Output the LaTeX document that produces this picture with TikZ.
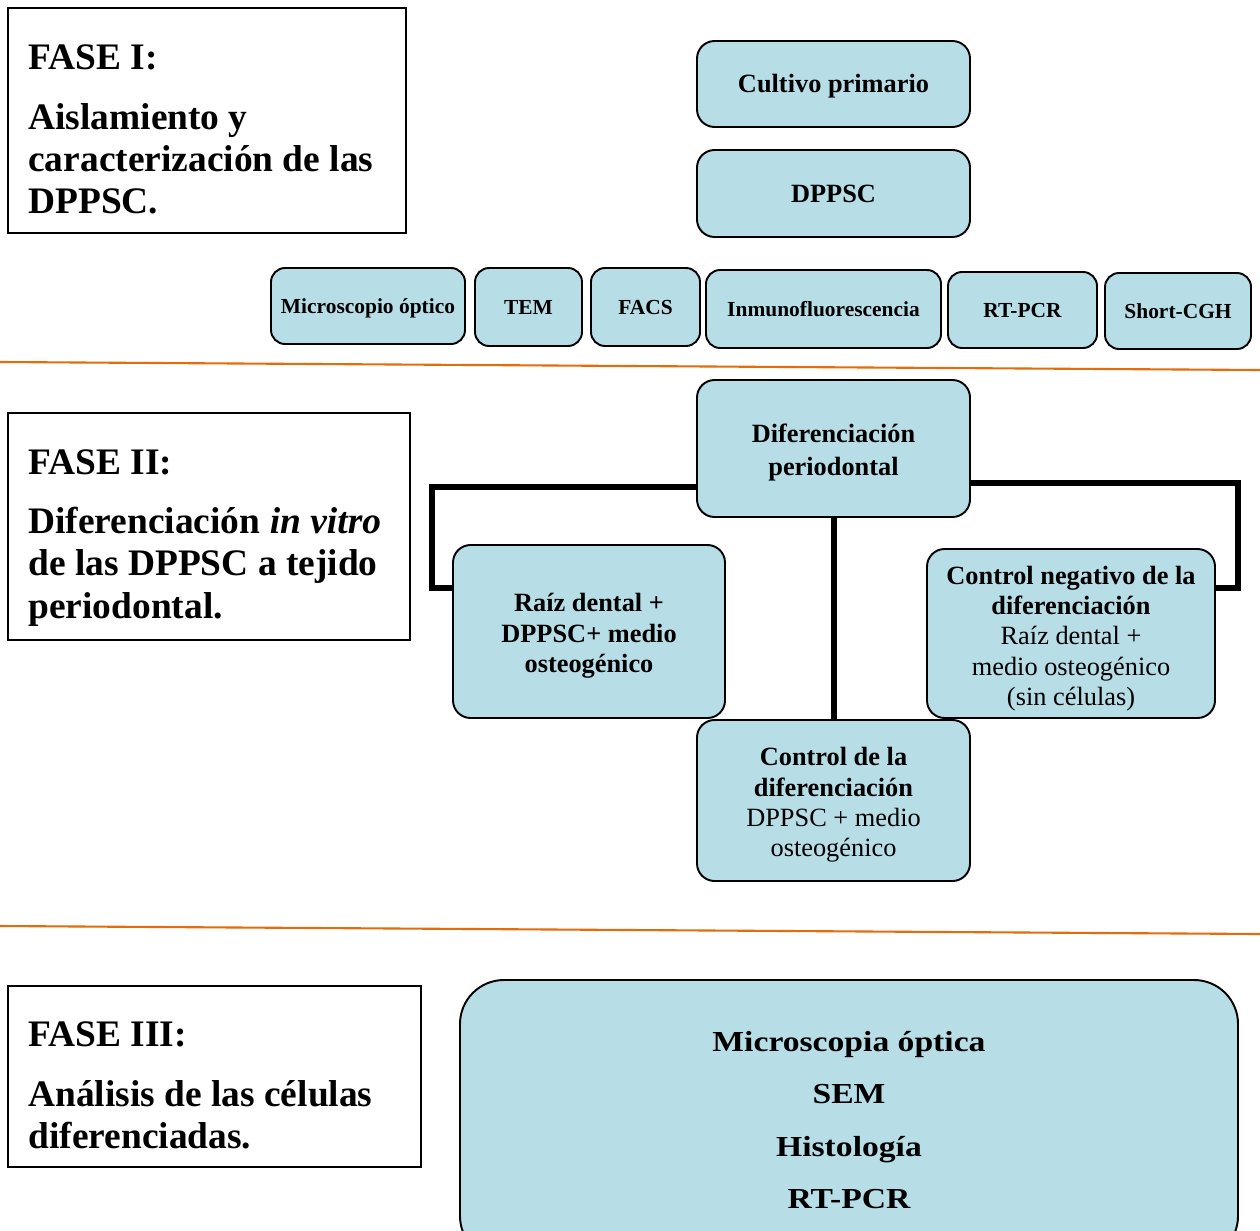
\documentclass[tikz,border=0pt]{standalone}
\usepackage{fontspec}
\setmainfont{Liberation Serif}
\newfontfamily\widefont{Liberation Serif}[FakeStretch=1.16]
\usetikzlibrary{backgrounds}
\definecolor{boxblue}{RGB}{183,222,230}
\definecolor{orangeline}{RGB}{228,108,10}
\tikzset{
 sz/.style 2 args={minimum width=#1*0.02cm, minimum height=#2*0.02cm},
 phasebox/.style={draw, line width=1.1pt, inner sep=0pt},
 ptxt/.style={anchor=north west, align=left, inner sep=0pt, font=\fontsize{21.3}{24}\selectfont\bfseries},
 bx/.style={draw, fill=boxblue, line width=1.1pt, rounded corners=10pt, align=center, inner sep=2pt,
   font=\fontsize{15}{17.3}\selectfont\bfseries},
 onebx/.style={bx, text height=13pt, text depth=3.3pt},
 boxtext/.style={align=center, inner sep=0pt, font=\fontsize{15}{17.3}\selectfont\bfseries},
 smallbx/.style={bx, rounded corners=8pt, font=\fontsize{12.2}{14}\selectfont\bfseries,
   text height=12pt, text depth=3pt},
 bigbx/.style={draw, fill=boxblue, line width=1.1pt, rounded corners=25pt, align=center, inner sep=2pt,
   font=\widefont\fontsize{16.5}{18.8}\selectfont\bfseries},
 conn/.style={line width=3.4pt},
 sepline/.style={draw=orangeline, line width=1.2pt},
}
\begin{document}
\begin{tikzpicture}[x=0.02cm, y=-0.02cm]
\clip (0,0) rectangle (1260,1230);
\fill[white] (0,0) rectangle (1260,1230);

% separators
\draw[sepline] (0,362) -- (1260,370);
\draw[sepline] (0,926) -- (1260,934);

% phase boxes
\node[phasebox, sz={398}{225}] (p1) at (207,120.5) {};
\node[ptxt] (p1h) at (28,44) {FASE I:};
\node[ptxt] (p1b) at (28,103) {Aislamiento y\\caracterización de las\\DPPSC.};

\node[phasebox, sz={402}{227}] (p2) at (209,526.5) {};
\node[ptxt] (p2h) at (28,449) {FASE II:};
\node[ptxt] (p2b) at (28,507) {Diferenciación \textit{in vitro}\\de las DPPSC a tejido\\periodontal.};

\node[phasebox, sz={413}{181}] (p3) at (214.5,1076.5) {};
\node[ptxt] (p3h) at (28,1021) {FASE III:};
\node[ptxt] (p3b) at (28,1080) {Análisis de las células\\diferenciadas.};

% top chain
\node[onebx, sz={273}{86}] (cult) at (833.5,84) {Cultivo primario};
\node[onebx, sz={273}{87}] (dppsc) at (833.5,193.5) {DPPSC};

% second phase boxes (shape, then text slightly below centre)
\node[bx, sz={273}{137}] (dif) at (833.5,448.5) {};
\node[bx, sz={272}{173}] (raiz) at (589,631.5) {};
\node[bx, sz={288}{169}] (cneg) at (1071,633.5) {};
\node[bx, sz={273}{161}] (cdif) at (833.5,800.5) {};

\node[boxtext, font=\fontsize{15}{18.7}\selectfont\bfseries] (dift) at ([yshift=-0.08cm]dif.center) {Diferenciación\\periodontal};
\node[boxtext] (raizt) at ([yshift=-0.09cm]raiz.center) {Raíz dental +\\DPPSC+ medio\\osteogénico};
\node[boxtext] (cnegt) at ([yshift=-0.1cm]cneg.center) {Control negativo de la\\diferenciación\\\mdseries Raíz dental +\\\mdseries medio osteogénico\\\mdseries (sin células)};
\node[boxtext] (cdift) at ([yshift=-0.09cm]cdif.center) {Control de la\\diferenciación\\\mdseries DPPSC + medio\\\mdseries osteogénico};

\begin{scope}[on background layer]
\draw[conn] (dppsc.south) -- (dif.north);
\end{scope}
\draw[conn] (dif.west |- 0,487) -- (432,487) -- (432,588) -- (raiz.west |- 0,588);
\draw[conn] (dif.east |- 0,483) -- (1238,483) -- (1238,588) -- (cneg.east |- 0,588);
\draw[conn] (dif.south) -- (cdif.north);

% technique row
\node[smallbx, sz={194}{76}] (mic) at (368,306) {Microscopio óptico};
\node[smallbx, sz={107}{78}] (tem) at (528.5,307) {TEM};
\node[smallbx, sz={109}{78}] (facs) at (645.5,307) {FACS};
\node[smallbx, sz={235}{78}] (inmu) at (823.5,309) {Inmunofluorescencia};
\node[smallbx, sz={149}{76}] (rtpcr) at (1022.5,310) {RT-PCR};
\node[smallbx, sz={146}{76}] (short) at (1178,311) {Short-CGH};

% analysis box
\node[bigbx, sz={778}{280}] (anal) at (849,1120) {Microscopia óptica\\[11pt]SEM\\[11pt]Histología\\[11pt]RT-PCR};
\end{tikzpicture}
\end{document}
